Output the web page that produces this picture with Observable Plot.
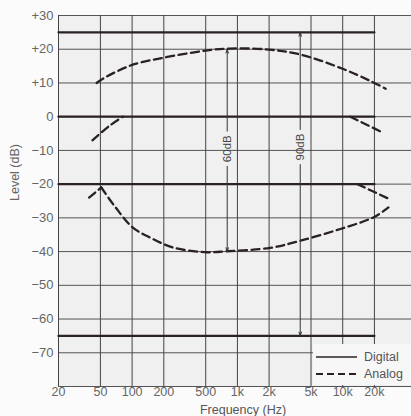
<!DOCTYPE html>
<html>
<head>
<meta charset="utf-8">
<script src="https://cdn.jsdelivr.net/npm/d3@7"></script>
<script src="https://cdn.jsdelivr.net/npm/@observablehq/plot@0.6"></script>
<style>
  html, body { margin: 0; padding: 0; background: #fbfbfb; }
  #wrap { position: relative; width: 411px; height: 416px; overflow: hidden; font-family: "Liberation Sans", Arial, sans-serif; }
  #legend { position: absolute; left: 313px; top: 344px; width: 98px; height: 41px; background: #f7f7f7; color: #555; font-size: 12.5px; }
  #legend .row { position: absolute; left: 2px; height: 16px; display: flex; align-items: center; }
  #legend svg { margin-right: 6px; }
</style>
</head>
<body>
<div id="wrap"><div id="chart"></div>
  <div id="legend">
    <div class="row" style="top:5px"><svg width="43" height="6"><line x1="1" y1="3" x2="42" y2="3" stroke="#2a2222" stroke-width="1.6"/></svg><span>Digital</span></div>
    <div class="row" style="top:22px"><svg width="43" height="6"><line x1="1" y1="3" x2="42" y2="3" stroke="#2a2222" stroke-width="2.2" stroke-dasharray="7,4"/></svg><span>Analog</span></div>
  </div>
</div>
<script>
// ---- data ----
const xTicks = [20, 50, 100, 200, 500, 1000, 2000, 5000, 10000, 20000];
const xTickLabels = ["20", "50", "100", "200", "500", "1k", "2k", "5k", "10k", "20k"];
const yTicks = [30, 20, 10, 0, -10, -20, -30, -40, -50, -60, -70];
const yTickLabels = ["+30", "+20", "+10", "0", "\u221210", "\u221220", "\u221230", "\u221240", "\u221250", "\u221260", "\u221270"];

// digital (solid) levels, 20 Hz – 20 kHz
const digitalLevels = [25, 0, -20, -65];
const digitalRange = [20, 20000];

// analog (dashed) curves: [frequency Hz, level dB]
const analogMax = [[46, 10], [58, 12], [95, 15.1], [118, 16], [200, 17.5], [500, 19.6], [850, 20.2], [2000, 19.9], [4000, 18.4], [10000, 14.2], [18000, 10.7], [25600, 8.3]];
const analogZeroLow = [[42, -7], [61, -2.7], [82, 0]];
const analogZeroHigh = [[11800, 0], [24000, -4.7]];
const analogMinus20Low = [[39, -24], [51, -21]];
const analogMinus20High = [[13800, -20], [27200, -24.3]];
const analogNoise = [[51, -21], [70, -27], [101, -32.8], [147, -35.8], [246, -38.8], [510, -40.2], [790, -39.9], [2040, -38.9], [3950, -36.8], [9500, -33.3], [19700, -29.8], [27200, -26.9]];

// dynamic-range annotations
const rangeFreq = [800, 3950];
const rangeTop = [20, 25];
const rangeBottom = [-40, -65];
const rangeLabels = ["60dB", "90dB"];
const rangeLabelLevel = [-9.5, -9];
const rangeGap = [5.2, 5.2];

// ---- build ----
const labelOf = new Map(xTicks.map((d, i) => [d, xTickLabels[i]]));
const yLabelOf = new Map(yTicks.map((d, i) => [d, yTickLabels[i]]));
const digital = digitalLevels.flatMap((lv, i) => digitalRange.map(f => ({id: i, f, lv})));
const toRows = (arr, id) => arr.map(([f, lv]) => ({id, f, lv}));
const analog = [
  ...toRows(analogMax, "max"),
  ...toRows(analogZeroLow, "z0"), ...toRows(analogZeroHigh, "z1"),
  ...toRows(analogMinus20Low, "m0"), ...toRows(analogMinus20High, "m1"),
  ...toRows(analogNoise, "noise")
];
const arrows = rangeFreq.flatMap((f, i) => [
  {f, y1: rangeLabelLevel[i] + rangeGap[i], y2: rangeTop[i]},
  {f, y1: rangeLabelLevel[i] - rangeGap[i], y2: rangeBottom[i]}
]);
const labels = rangeFreq.map((f, i) => ({f, lv: rangeLabelLevel[i], t: rangeLabels[i]}));

const ink = "#2a2222";
const chart = Plot.plot({
  width: 411, height: 416,
  marginLeft: 58, marginRight: 0, marginTop: 15, marginBottom: 30,
  x: {type: "log", domain: [20, 45000], axis: null},
  y: {domain: [-80, 30], axis: null},
  style: {fontFamily: "'Liberation Sans', Arial, sans-serif", fontSize: "13px", color: "#666", background: "transparent", overflow: "visible"},
  marks: [
    Plot.frame({fill: "#f0f0f0", stroke: null}),
    Plot.ruleY(yTicks.concat([-80]), {stroke: "#555", strokeWidth: 1}),
    Plot.ruleX(xTicks, {stroke: "#444", strokeWidth: 1}),
    Plot.text(xTicks, {x: d => d, text: d => labelOf.get(d), frameAnchor: "bottom", dy: 9, fontSize: 12.5, fill: "#666"}),
    Plot.text(yTicks, {y: d => d, text: d => yLabelOf.get(d), frameAnchor: "left", textAnchor: "end", dx: -5, fontSize: 13, fill: "#666"}),
    Plot.text(["Level (dB)"], {frameAnchor: "left", rotate: -90, dx: -44, fontSize: 12.5, fill: "#666"}),
    Plot.text(["Frequency (Hz)"], {frameAnchor: "bottom", dx: 8, dy: 27, fontSize: 12.5, fill: "#555"}),
    Plot.line(digital, {x: "f", y: "lv", z: "id", stroke: ink, strokeWidth: 2.3}),
    Plot.line(analog, {x: "f", y: "lv", z: "id", stroke: ink, strokeWidth: 2.3, strokeDasharray: "8,4.5", curve: "catmull-rom"}),
    Plot.arrow(arrows, {x1: "f", x2: "f", y1: "y1", y2: "y2", stroke: "#333", strokeWidth: 1, headLength: 6, headAngle: 35}),
    Plot.text(labels, {x: "f", y: "lv", text: "t", rotate: -90, fontSize: 11.5, fill: "#444"})
  ]
});
document.getElementById("chart").appendChild(chart);
</script>
</body>
</html>
